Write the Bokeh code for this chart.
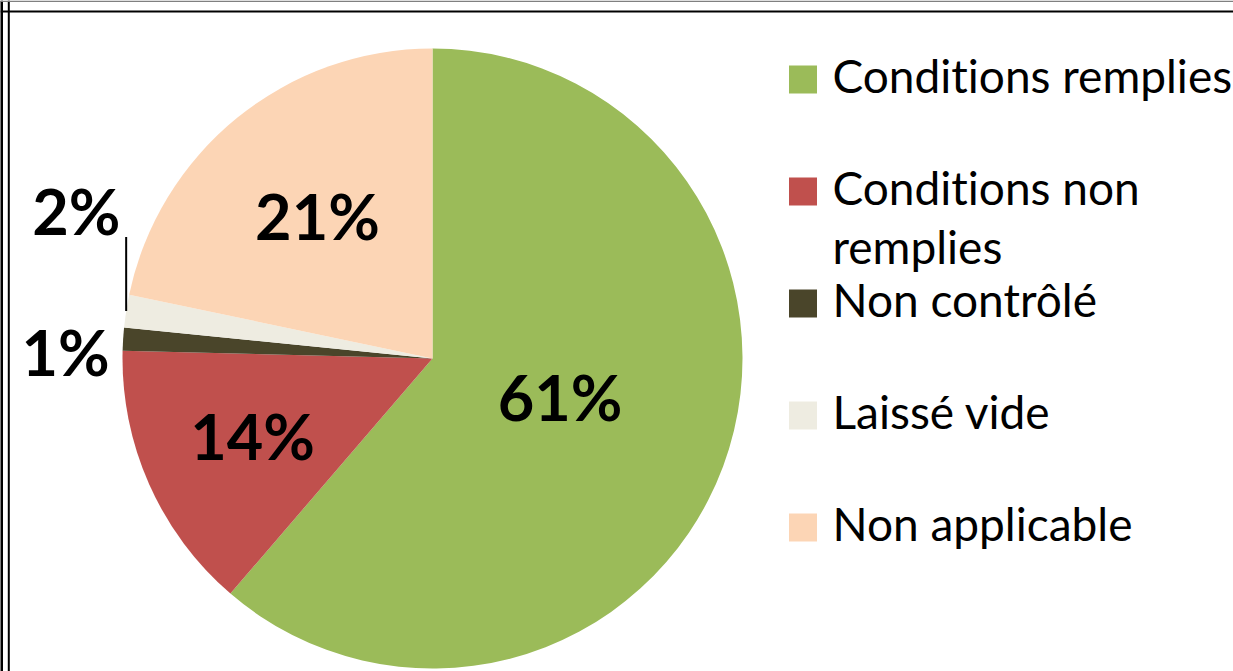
import math
from bokeh.plotting import figure
from bokeh.models import Range1d, Span, ColumnDataSource, InlineStyleSheet
from bokeh.core.properties import value
from bokeh.embed import file_html
from bokeh.resources import INLINE

# ---- data ----
categories = ["Conditions remplies", "Conditions non\nremplies", "Non contrôlé", "Laissé vide", "Non applicable"]
shares = [61.3, 14.1, 1.2, 1.7, 21.7]
pct_labels = ["61%", "14%", "1%", "2%", "21%"]
colors = ["#9BBB59", "#C0504D", "#4A452A", "#EEECE1", "#FCD5B5"]

# ---- layout parameters (page pixel space, y measured from page top) ----
W, H = 1233, 671
CX, CY_IMG, R = 432, 358, 310
CY = H - CY_IMG
label_r = [0.432, 0.635, 1.184, 1.241, 0.584]
label_dang = [-2.7, 0.0, -2.9, 13.4, -0.4]
LABEL_SHIFT = 3
FONT = "Lato"

p = figure(width=W, height=H, output_backend="svg", toolbar_location=None,
           x_range=Range1d(0, W), y_range=Range1d(0, H),
           min_border=0, background_fill_color="white", border_fill_color="white")
p.axis.visible = False
p.grid.visible = False
p.outline_line_color = None
p.stylesheets = [InlineStyleSheet(css=":host { font-variant-ligatures: none; }")]

total = sum(shares)
starts, ends, mids = [], [], []
acc = 0.0
for s in shares:
    a0 = acc / total
    acc += s
    a1 = acc / total
    starts.append(math.pi / 2 - 2 * math.pi * a1)
    ends.append(math.pi / 2 - 2 * math.pi * a0)
    mids.append(360 * (a0 + a1) / 2)  # clockwise from top, degrees

src = ColumnDataSource(dict(x=[CX] * len(shares), y=[CY] * len(shares),
                            start=starts, end=ends, color=colors))
p.wedge(x="x", y="y", radius=R, start_angle="start", end_angle="end",
        fill_color="color", line_color=None, source=src)

# percent labels
lx, ly = [], []
for m, f, da in zip(mids, label_r, label_dang):
    th = math.radians(m + da)
    lx.append(CX + R * f * math.sin(th))
    ly.append(CY + R * f * math.cos(th) + LABEL_SHIFT)
p.text(x=lx, y=ly, text=pct_labels, text_align="center", text_baseline="middle",
       text_font=value(FONT), text_font_style="bold", text_font_size="63px",
       text_color="black")

# leader line for the small "Laissé vide" slice
i = 3
th = math.radians(mids[i])
ex = CX + R * math.sin(th)
ey = CY + R * math.cos(th)
p.segment(x0=[ex], y0=[ey], x1=[ex], y1=[ly[i] - 27], line_color="black", line_width=2)

# legend
LEG_X, LEG_Y0, LEG_STEP = 802.5, 79, 112
sq_x, sq_y, tx, ty, tt = [], [], [], [], []
for k, (cat, col) in enumerate(zip(categories, colors)):
    yc = LEG_Y0 + LEG_STEP * k
    sq_x.append(LEG_X)
    sq_y.append(H - yc)
    for j, line in enumerate(cat.split("\n")):
        tx.append(832)
        ty.append(H - (yc - 4 + 59 * j))
        tt.append(line)
p.scatter(x=sq_x, y=sq_y, marker="square", size=28, fill_color=colors, line_color=None)
p.text(x=tx, y=ty, text=tt, text_align="left", text_baseline="middle",
       text_font=value(FONT), text_font_size="46px", text_color="black")

# frame lines
p.add_layout(Span(location=1, dimension="height", line_color="black", line_width=3))
p.add_layout(Span(location=8.3, dimension="height", line_color="black", line_width=2))
p.add_layout(Span(location=H - 0.7, dimension="width", line_color="#808080", line_width=1.5))
p.add_layout(Span(location=H - 11, dimension="width", line_color="black", line_width=2))

open("out.html", "w").write(file_html(p, INLINE))
